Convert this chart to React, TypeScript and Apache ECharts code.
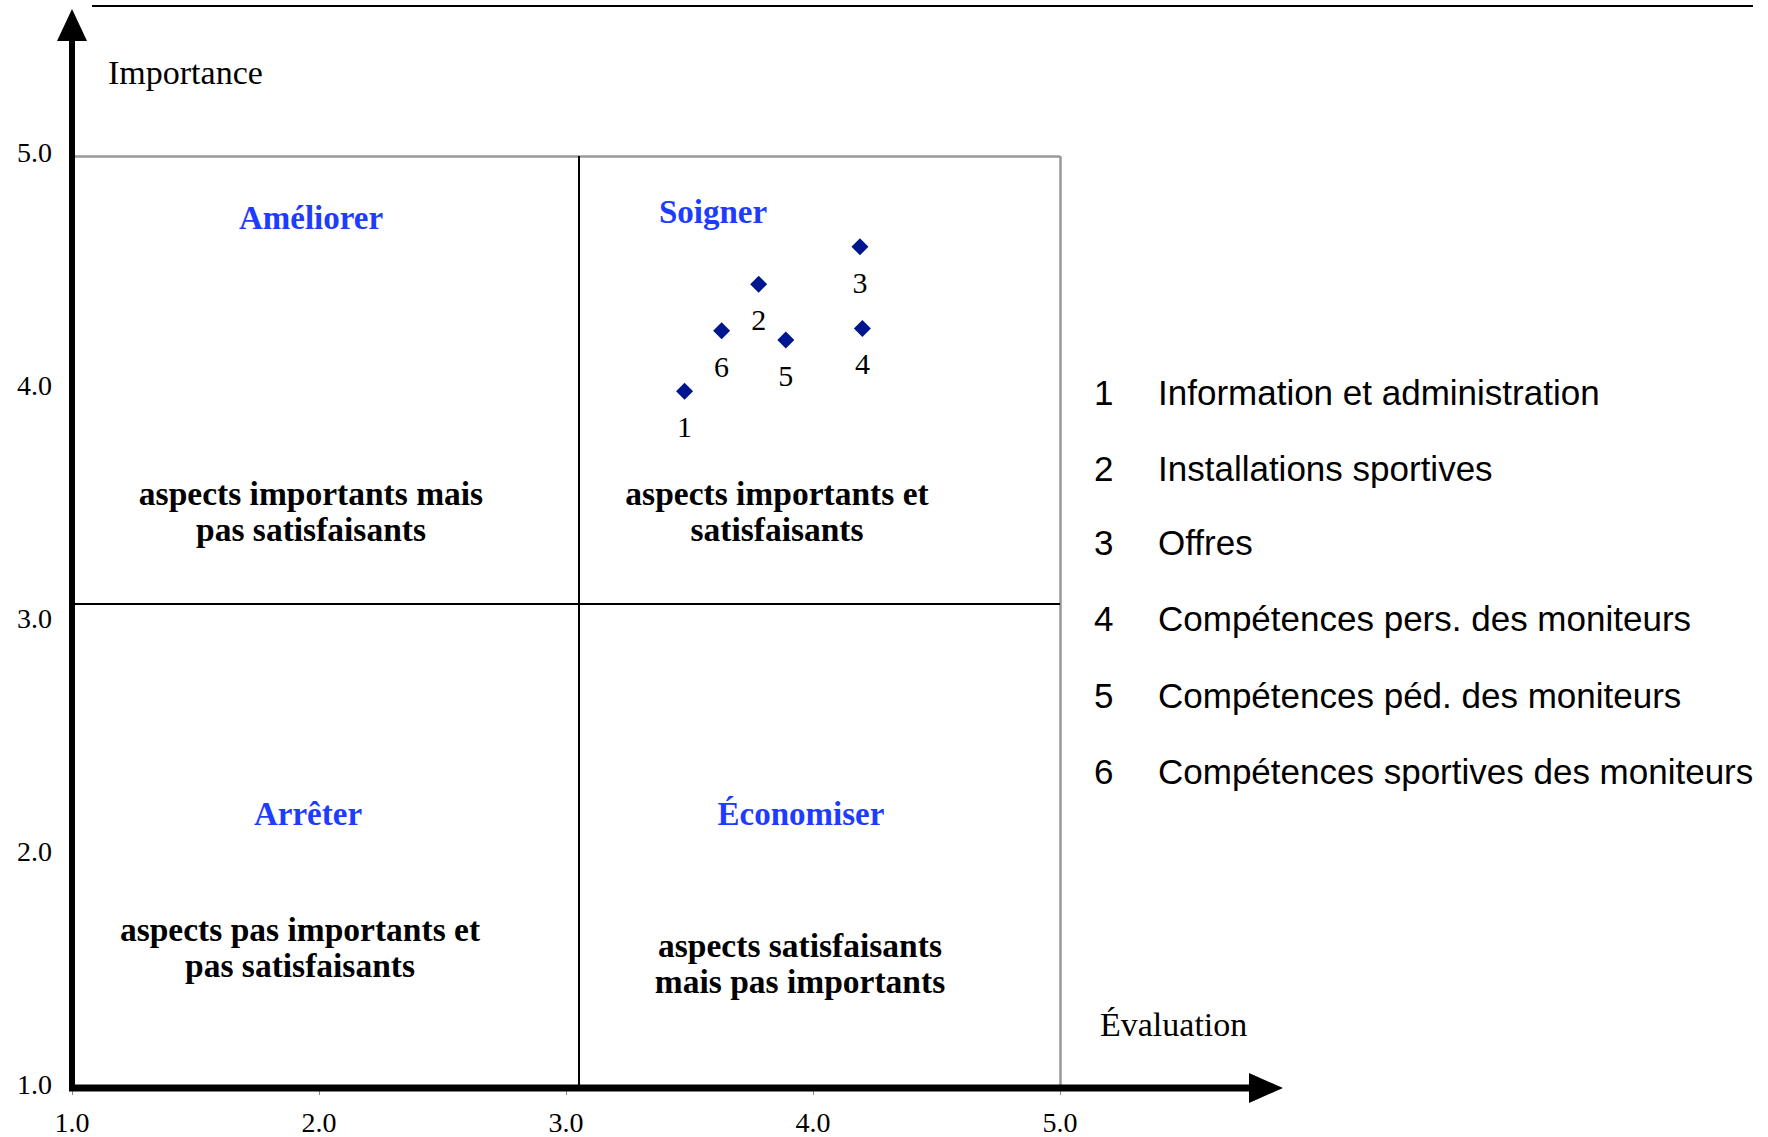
import React, { useEffect, useRef } from "react";
import * as echarts from "echarts";

const itemIds = ["1", "2", "3", "4", "5", "6"];
const evaluationValues = [3.48, 3.78, 4.19, 4.2, 3.89, 3.63];
const importanceValues = [3.99, 4.45, 4.61, 4.26, 4.21, 4.25];
const itemNames = [
  "Information et administration",
  "Installations sportives",
  "Offres",
  "Compétences pers. des moniteurs",
  "Compétences péd. des moniteurs",
  "Compétences sportives des moniteurs",
];
const axisMin = 1;
const axisMax = 5;
const axisInterval = 1;
const meanEvaluation = 3.05;
const meanImportance = 3.08;
const quadrantTitles = ["Améliorer", "Soigner", "Arrêter", "Économiser"];
const quadrantTexts = [
  "aspects importants mais\npas satisfaisants",
  "aspects importants et\nsatisfaisants",
  "aspects pas importants et\npas satisfaisants",
  "aspects satisfaisants\nmais pas importants",
];
const yAxisName = "Importance";
const xAxisName = "Évaluation";

const SERIF = '"Liberation Serif", "Times New Roman", serif';
const SANS = '"Liberation Sans", Arial, sans-serif';
const BLUE = "#1e3cff";

export default function App() {
  const ref = useRef<HTMLDivElement>(null);

  useEffect(() => {
    if (!ref.current) return;
    const chart = echarts.init(ref.current, undefined, { renderer: "svg" });
    const data = itemIds.map((id, i) => [evaluationValues[i], importanceValues[i], id]);

    chart.setOption({
      animation: false,
      backgroundColor: "#ffffff",
      grid: { left: 72, right: 708, top: 156, bottom: 49 },
      xAxis: {
        type: "value",
        min: axisMin,
        max: axisMax,
        interval: axisInterval,
        axisLine: { show: false },
        axisTick: { show: true, length: 7, lineStyle: { color: "#888", width: 1 } },
        splitLine: { show: false },
        axisLabel: {
          fontFamily: SERIF,
          fontSize: 28,
          color: "#000",
          margin: 20,
          formatter: (v: number) => v.toFixed(1),
        },
      },
      yAxis: {
        type: "value",
        min: axisMin,
        max: axisMax,
        interval: axisInterval,
        axisLine: { show: false },
        axisTick: { show: false },
        splitLine: { show: false },
        axisLabel: {
          fontFamily: SERIF,
          fontSize: 28,
          color: "#000",
          margin: 20,
          verticalAlign: "bottom",
          lineHeight: 7,
          formatter: (v: number) => v.toFixed(1),
        },
      },
      series: [
        {
          type: "scatter",
          data,
          symbol: "diamond",
          symbolSize: 17,
          itemStyle: { color: "#00168f", opacity: 1 },
          label: {
            show: true,
            position: "bottom",
            distance: 12,
            formatter: (p: any) => p.data[2],
            fontFamily: SERIF,
            fontSize: 30,
            color: "#000",
          },
          markLine: {
            silent: true,
            symbol: "none",
            label: { show: false },
            animation: false,
            lineStyle: { color: "#000", width: 2, type: "solid" },
            data: [
              [
                { coord: [axisMin, axisMax], lineStyle: { color: "#999", width: 2.5, type: "solid" } },
                { coord: [axisMax, axisMax] },
              ],
              [
                { coord: [axisMax, axisMin], lineStyle: { color: "#999", width: 2.5, type: "solid" } },
                { coord: [axisMax, axisMax] },
              ],
              [{ coord: [meanEvaluation, axisMin] }, { coord: [meanEvaluation, axisMax] }],
              [{ coord: [axisMin, meanImportance] }, { coord: [axisMax, meanImportance] }],
            ],
          },
        },
      ],
    });

    const o = chart.convertToPixel({ gridIndex: 0 }, [axisMin, axisMin]) as number[];
    const ox = o[0];
    const oy = o[1];

    const textEl = (
      text: string,
      x: number,
      y: number,
      opts: { size: number; family: string; weight?: string; fill?: string; align?: string; lh?: number }
    ) => ({
      type: "text",
      x,
      y,
      z: 20,
      style: {
        text,
        fontSize: opts.size,
        fontFamily: opts.family,
        fontWeight: opts.weight || "normal",
        fill: opts.fill || "#000",
        align: opts.align || "center",
        verticalAlign: "middle",
        lineHeight: opts.lh || opts.size * 1.1,
      },
    });

    const titlePos = [
      [311, 218],
      [713, 212],
      [308, 814],
      [801, 814],
    ];
    const bodyPos = [
      [311, 511],
      [777, 511],
      [300, 947],
      [800, 963],
    ];

    const graphic: any[] = [
      // top border line
      { type: "line", z: 20, shape: { x1: 92, y1: 6, x2: 1753, y2: 6 }, style: { stroke: "#000", lineWidth: 2 } },
      // y axis
      { type: "line", z: 20, shape: { x1: ox, y1: oy + 3, x2: ox, y2: 38 }, style: { stroke: "#000", lineWidth: 6 } },
      {
        type: "polygon",
        z: 20,
        shape: { points: [[ox, 9], [ox - 15, 41], [ox + 15, 41]] },
        style: { fill: "#000" },
      },
      // x axis
      { type: "line", z: 20, shape: { x1: ox - 3, y1: oy, x2: 1252, y2: oy }, style: { stroke: "#000", lineWidth: 7 } },
      {
        type: "polygon",
        z: 20,
        shape: { points: [[1283, oy], [1249, oy - 15], [1249, oy + 15]] },
        style: { fill: "#000" },
      },
      textEl(yAxisName, 108, 72, { size: 34, family: SERIF, align: "left" }),
      textEl(xAxisName, 1100, 1024, { size: 34, family: SERIF, align: "left" }),
    ];

    quadrantTitles.forEach((t, i) => {
      graphic.push(textEl(t, titlePos[i][0], titlePos[i][1], { size: 33, family: SERIF, weight: "bold", fill: BLUE }));
    });
    quadrantTexts.forEach((t, i) => {
      graphic.push(textEl(t, bodyPos[i][0], bodyPos[i][1], { size: 33.5, family: SERIF, weight: "bold", lh: 36 }));
    });

    const legendY = [392, 468, 542, 618, 695, 771];
    itemNames.forEach((name, i) => {
      graphic.push(textEl(itemIds[i], 1094, legendY[i], { size: 35, family: SANS, align: "left" }));
      graphic.push(textEl(name, 1158, legendY[i], { size: 35, family: SANS, align: "left" }));
    });

    chart.setOption({ graphic });

    return () => chart.dispose();
  }, []);

  return (
    <div
      ref={ref}
      style={{ position: "absolute", left: 0, top: 0, width: 1768, height: 1137 }}
    />
  );
}
